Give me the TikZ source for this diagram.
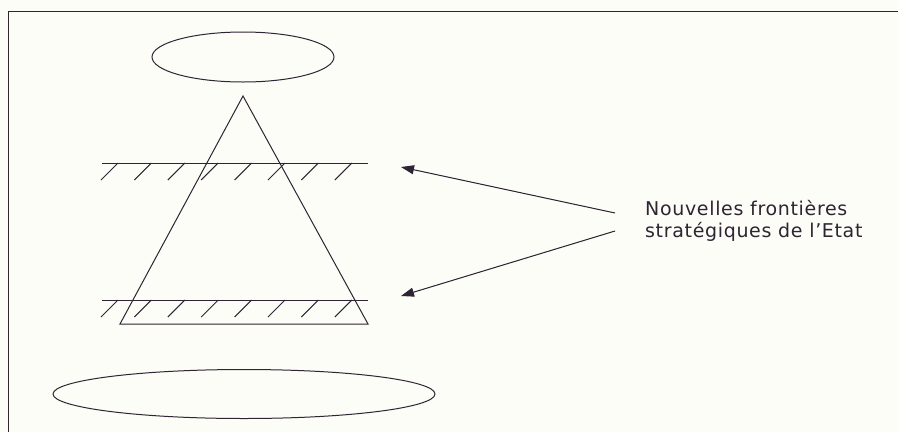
\documentclass[tikz,border=0pt]{standalone}
\usepackage{fontspec}
\setmainfont{Liberation Sans}
\newfontfamily\lblfont[LetterSpace=3.5]{DejaVu Sans}
\usepackage{tikz}
\usetikzlibrary{shapes.geometric, arrows.meta, positioning}
\definecolor{inkline}{HTML}{2E2433}
\definecolor{paperbg}{HTML}{FDFDF8}

\begin{document}
\begin{tikzpicture}[
    x=1pt, y=-1pt,
    line/.style={draw=inkline, line width=1pt},
    oval/.style={ellipse, draw=inkline, line width=1pt, inner sep=0pt},
    arr/.style={-{Triangle[length=13pt, width=9pt]}, draw=inkline, fill=inkline, line width=1pt},
    lbl/.style={align=left, font=\lblfont\fontsize{19}{21.5}\selectfont, text=inkline, inner sep=0pt}
]

\fill[paperbg] (0,0) rectangle (898,432);
\useasboundingbox (0,0) rectangle (898,432);

% frame (only top and left edges show)
\draw[line] (898,11) -- (8,11) -- (8,432);

% ellipses
\node[oval, minimum width=182pt, minimum height=50pt] (topoval) at (243,57) {};
\node[oval, minimum width=382pt, minimum height=49pt] (botoval) at (244,394) {};

% pyramid
\coordinate (apex)  at (243,96);
\coordinate (baseL) at (120,324);
\coordinate (baseR) at (368,324);
\draw[line, line join=miter] (apex) -- (baseR) -- (baseL) -- cycle;

% hatched frontiers
\coordinate (upL) at (102,163);
\coordinate (upR) at (368,163);
\coordinate (loL) at (102,300);
\coordinate (loR) at (368,300);
\draw[line] (upL) -- (upR);
\draw[line] (loL) -- (loR);
\foreach \i in {0,...,7} {
  \draw[line] (118+33.4*\i,163) -- ++(-17,17);
  \draw[line] (118+33.4*\i,300) -- ++(-17,17);
}

% label and arrows
\node[lbl, anchor=west] (label) at (645,221) {Nouvelles frontières\\stratégiques de l’Etat};
\coordinate (fromUp) at (615,213);
\coordinate (fromLo) at (615,231);
\coordinate (toUp) at (401,167);
\coordinate (toLo) at (401,296);
\draw[arr] (fromUp) -- (toUp);
\draw[arr] (fromLo) -- (toLo);

\end{tikzpicture}
\end{document}
